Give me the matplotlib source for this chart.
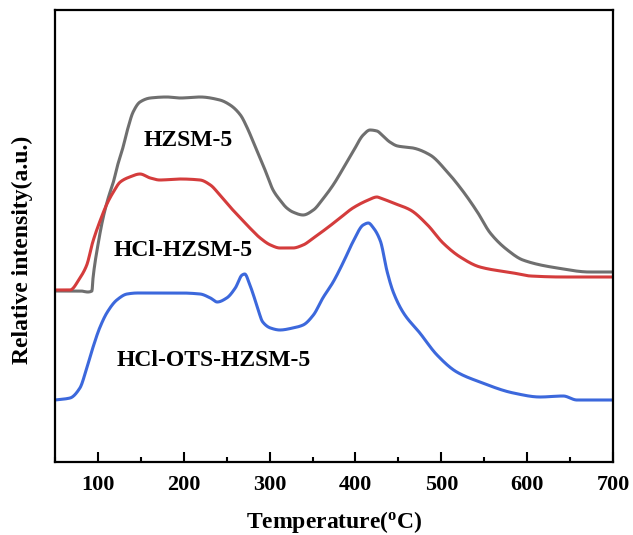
import matplotlib
matplotlib.use("Agg")
import matplotlib.pyplot as plt
from matplotlib.ticker import MultipleLocator
import numpy as np

plt.rcParams['font.family'] = ['Liberation Serif', 'DejaVu Serif']
plt.rcParams['font.weight'] = 'bold'
plt.rcParams['mathtext.fontset'] = 'custom'
plt.rcParams['mathtext.rm'] = 'Liberation Serif:bold'
plt.rcParams['mathtext.bf'] = 'Liberation Serif:bold'
plt.rcParams['mathtext.it'] = 'Liberation Serif:bold'

# HZSM-5 (gray)
t_hzsm = [50, 67.5, 80, 88, 93, 94.3, 100, 106, 112, 118, 123, 129, 135, 141, 149, 161, 180, 196,
          219, 242, 254, 266, 274, 281, 289, 297, 304, 312, 320, 327, 339, 351, 362, 374, 386,
          397, 409, 417, 425, 432, 440, 449, 467, 487, 507, 525, 542, 557, 577, 595, 635, 673, 700]
i_hzsm = [171, 171, 171, 170, 171, 184, 217, 244, 264, 280, 297, 314, 334, 350, 360, 364, 365, 364,
          365, 362, 357, 347, 334, 320, 304, 287, 272, 262, 254, 250, 247, 252, 263, 277, 294,
          310, 327, 332, 331, 326, 320, 316, 314, 307, 290, 271, 250, 229, 212, 202, 194, 190, 190]

# HCl-HZSM-5 (red)
t_hcl = [50, 67.5, 79, 87, 94, 102, 111, 118, 126, 137, 149, 161, 172, 196, 219, 231, 242, 254,
         266, 277, 289, 301, 312, 327, 339, 351, 367, 382, 397, 415, 425, 429, 444, 464, 484,
         502, 522, 545, 584, 604, 642, 700]
i_hcl = [172, 172, 184, 197, 220, 240, 259, 270, 280, 285, 288, 284, 282, 283, 282, 277, 267, 255,
         244, 234, 224, 217, 214, 214, 217, 224, 234, 244, 254, 262, 265, 264, 259, 252, 237,
         219, 205, 195, 189, 186, 185, 185]

# HCl-OTS-HZSM-5 (blue)
t_ots = [50, 67.5, 79, 87, 94, 102, 111, 122, 134, 146, 196, 219, 231, 239, 250, 260, 268, 271,
         277, 285, 292, 301, 312, 327, 339, 351, 362, 374, 386, 397, 409, 415, 421, 429, 437,
         444, 456, 475, 495, 518, 545, 584, 615, 642, 658, 700]
i_ots = [62, 64, 74, 94, 114, 134, 150, 162, 168, 169, 169, 168, 164, 160, 164, 174, 187, 188,
         177, 157, 140, 134, 132, 134, 137, 147, 164, 180, 200, 220, 237, 239, 234, 221, 190,
         170, 149, 129, 107, 90, 80, 69, 65, 66, 62, 62]

labels = ["HZSM-5", "HCl-HZSM-5", "HCl-OTS-HZSM-5"]
colors = ["#6f6f6f", "#d43c3c", "#3c68dc"]


def pchip(x, y, xn):
    x = np.asarray(x, float)
    y = np.asarray(y, float)
    h = np.diff(x)
    d = np.diff(y) / h
    m = np.zeros_like(y)
    m[0], m[-1] = d[0], d[-1]
    for k in range(1, len(x) - 1):
        if d[k - 1] * d[k] > 0:
            w1 = 2 * h[k] + h[k - 1]
            w2 = h[k] + 2 * h[k - 1]
            m[k] = (w1 + w2) / (w1 / d[k - 1] + w2 / d[k])
    i = np.clip(np.searchsorted(x, xn) - 1, 0, len(x) - 2)
    t = (xn - x[i]) / h[i]
    h00 = 2 * t**3 - 3 * t**2 + 1
    h10 = t**3 - 2 * t**2 + t
    h01 = -2 * t**3 + 3 * t**2
    h11 = t**3 - t**2
    return h00 * y[i] + h10 * h[i] * m[i] + h01 * y[i + 1] + h11 * h[i] * m[i + 1]


W, H = 633, 535
fig = plt.figure(figsize=(W / 100, H / 100), dpi=100)
ax = fig.add_axes([55 / W, 1 - 462 / H, (613 - 55) / W, (462 - 10) / H])

for t, i, c in zip([t_hzsm, t_hcl, t_ots], [i_hzsm, i_hcl, i_ots], colors):
    tn = np.linspace(t[0], t[-1], 1500)
    ax.plot(tn, pchip(t, i, tn), color=c, lw=2.2, solid_joinstyle='round')

ax.set_xlim(50, 700)
ax.set_ylim(0, 452)
ax.set_yticks([])
ax.xaxis.set_major_locator(MultipleLocator(100))
ax.xaxis.set_minor_locator(MultipleLocator(50))
ax.tick_params(axis='x', which='major', direction='in', length=7, width=1.5, labelsize=16, pad=9)
ax.tick_params(axis='x', which='minor', direction='in', length=3.5, width=1.5)
for lab in ax.get_xticklabels():
    lab.set_fontweight('bold')
for s in ax.spines.values():
    s.set_linewidth(1.6)

ax.text(205, 322, labels[0], fontsize=17, fontweight='bold', ha='center', va='center')
ax.text(199, 211, labels[1], fontsize=17, fontweight='bold', ha='center', va='center')
ax.text(235, 102, labels[2], fontsize=17, fontweight='bold', ha='center', va='center')

fig.text(334 / W, 1 - 522 / H, r'Temperature($\mathregular{^o}$C)', fontsize=17,
         fontweight='bold', ha='center', va='center')
fig.text(22 / W, 1 - 250 / H, 'Relative intensity(a.u.)', fontsize=17, fontweight='bold',
         rotation=90, ha='center', va='center')

fig.savefig("out.png", dpi=100)
